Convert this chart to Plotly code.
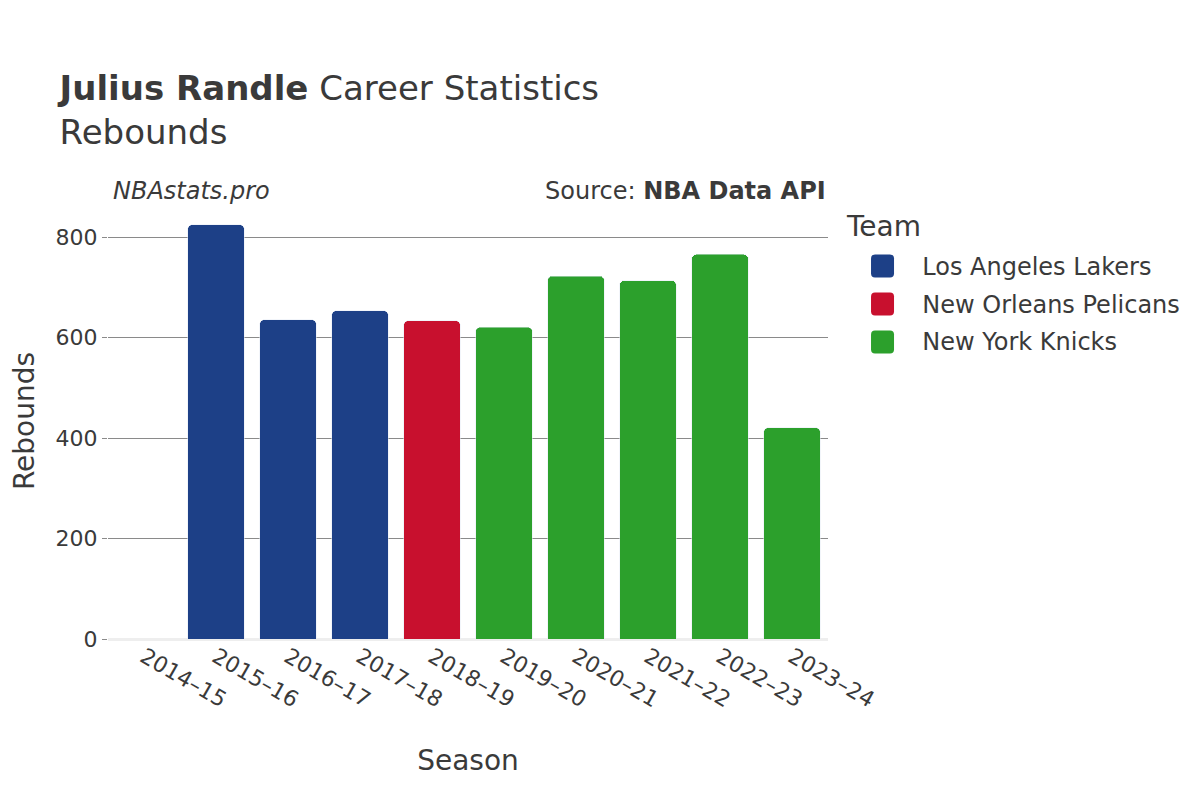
import plotly.graph_objects as go

seasons = ["2014–15", "2015–16", "2016–17", "2017–18", "2018–19",
           "2019–20", "2020–21", "2021–22", "2022–23", "2023–24"]
teams = ["Los Angeles Lakers", "New Orleans Pelicans", "New York Knicks"]
team_colors = ["#1d4087", "#c8102e", "#2ca02c"]
lakers_seasons = ["2014–15", "2015–16", "2016–17", "2017–18"]
lakers_reb = [0, 825, 636, 654]
pelicans_seasons = ["2018–19"]
pelicans_reb = [634]
knicks_seasons = ["2019–20", "2020–21", "2021–22", "2022–23", "2023–24"]
knicks_reb = [621, 723, 714, 766, 421]

font = "DejaVu Sans"
fig = go.Figure()
for name, xs, ys, col in zip(teams,
                             [lakers_seasons, pelicans_seasons, knicks_seasons],
                             [lakers_reb, pelicans_reb, knicks_reb],
                             team_colors):
    fig.add_trace(go.Bar(x=xs, y=ys, name=name, marker_color=col,
                         legendgroup=name, showlegend=False))
    # legend entry (text); its swatch is drawn as a rounded square shape below
    fig.add_trace(go.Bar(x=[seasons[0]], y=[None], name=name, legendgroup=name,
                         marker=dict(color="rgba(0,0,0,0)",
                                     line=dict(width=0, color="rgba(0,0,0,0)")),
                         showlegend=True, hoverinfo="skip"))

# rounded-square legend swatches (pixel-sized, anchored in paper coords)
swatch = ("M -7.5,-11.5 H 7.5 Q 11.5,-11.5 11.5,-7.5 V 7.5 Q 11.5,11.5 7.5,11.5 "
          "H -7.5 Q -11.5,11.5 -11.5,7.5 V -7.5 Q -11.5,-11.5 -7.5,-11.5 Z")
swatch_y = [0.8555, 0.7683, 0.6812]
shapes = []
for col, yy in zip(team_colors, swatch_y):
    shapes.append(dict(type="path", path=swatch, xref="paper", yref="paper",
                       xsizemode="pixel", ysizemode="pixel",
                       xanchor=1.0749, yanchor=yy, layer="above",
                       fillcolor=col, line=dict(width=0)))

fig.update_layout(
    width=1200, height=800,
    barmode="stack", bargap=0.21, barcornerradius=5,
    plot_bgcolor="white", paper_bgcolor="white",
    font=dict(family=font, color="#3a3a3a", size=20),
    margin=dict(l=92, r=380, t=195, b=169),
    title=dict(text="<b>Julius Randle</b> Career Statistics<br>Rebounds",
               x=0.043, xanchor="left", y=0.885, yanchor="top",
               font=dict(size=34, family=font, color="#3a3a3a")),
    legend=dict(font=dict(size=24), bgcolor="rgba(0,0,0,0)",
                x=1.02373, xanchor="left", y=0.906, yanchor="top",
                itemwidth=67, traceorder="grouped", tracegroupgap=3),
    xaxis=dict(title=dict(text="Season", font=dict(size=28), standoff=39),
               tickangle=30, automargin=False, domain=[0.01099, 1],
               categoryorder="array", categoryarray=seasons,
               tickfont=dict(size=22), showgrid=False),
    yaxis=dict(title=dict(text="Rebounds", font=dict(size=28), standoff=36),
               dtick=200, automargin=False,
               gridcolor="#8a8a8a", gridwidth=1, zeroline=True,
               zerolinecolor="#eeeeee", zerolinewidth=3,
               ticks="outside", ticklen=5, tickcolor="#8a8a8a",
               tickfont=dict(size=22)),
    shapes=shapes,
    annotations=[
        dict(text="<i>NBAstats.pro</i>", xref="paper", yref="paper",
             x=0.01495, y=1.0, yshift=-4, xanchor="left", yanchor="bottom",
             showarrow=False, font=dict(size=24, family=font, color="#3a3a3a")),
        dict(text="Source: <b>NBA Data API</b>", xref="paper", yref="paper",
             x=1.0, y=1.0, yshift=-4, xanchor="right", yanchor="bottom",
             showarrow=False, font=dict(size=24, family=font, color="#3a3a3a")),
        dict(text="Team", xref="paper", yref="paper", x=1.02198, y=0.945,
             xanchor="left", yanchor="middle", showarrow=False,
             font=dict(size=28, family=font, color="#3a3a3a")),
    ],
)
fig.write_html("out.html")
